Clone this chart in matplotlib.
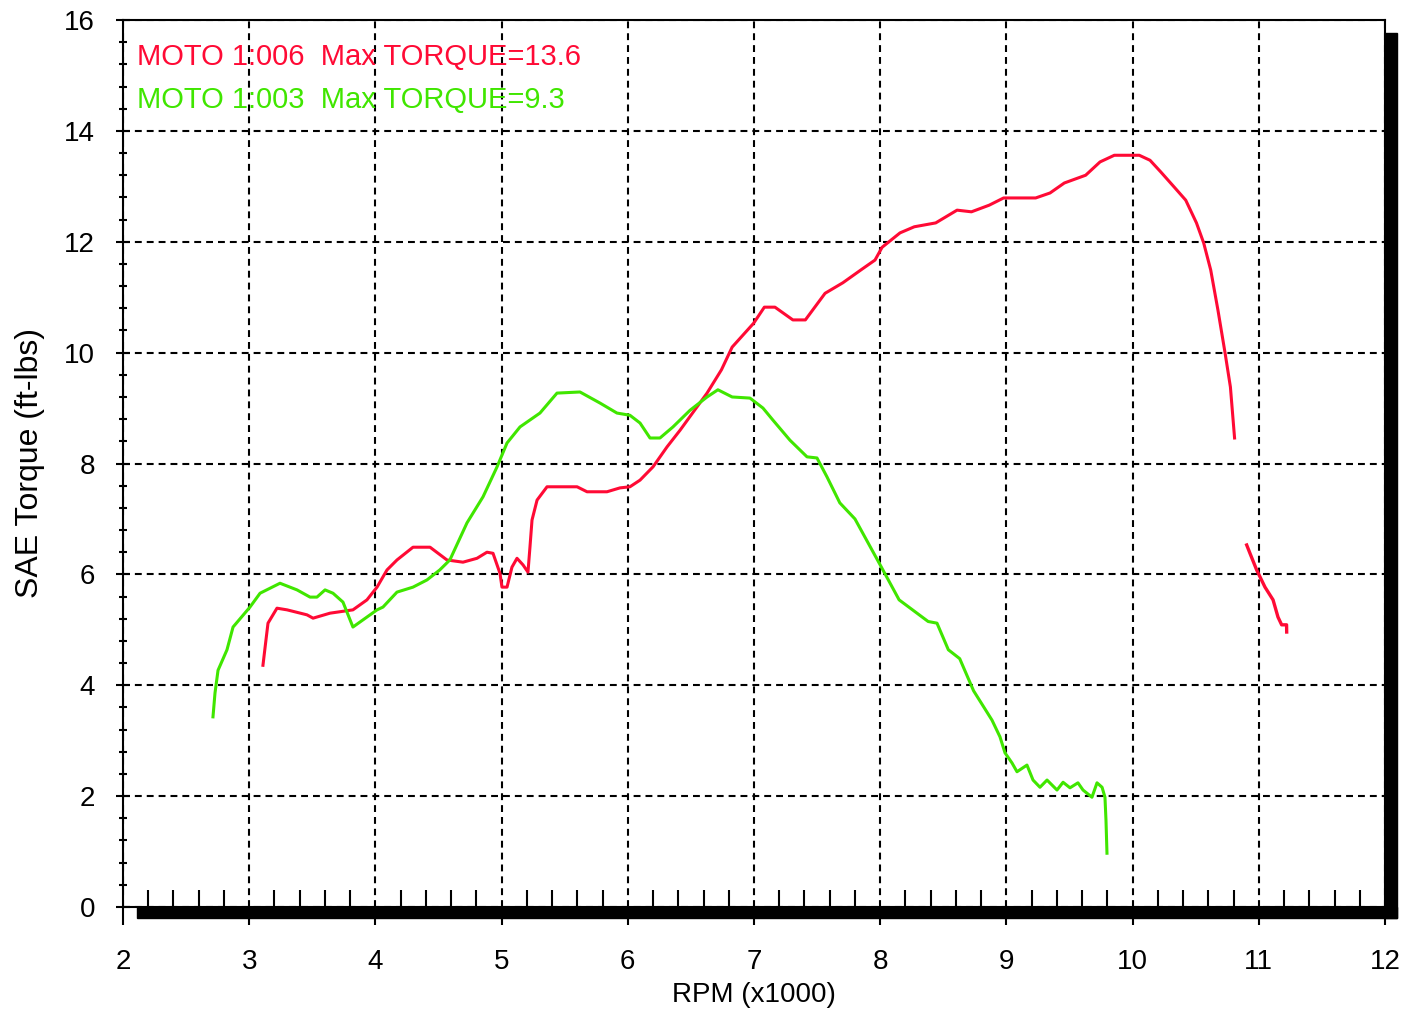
import numpy as np
import matplotlib.pyplot as plt
from matplotlib.patches import Rectangle
from matplotlib.ticker import MultipleLocator

plt.rcParams['font.family'] = ['Liberation Sans', 'DejaVu Sans']

# MOTO 1:006 (red) - main run
red_rpm = [3.109, 3.133, 3.149, 3.220, 3.300, 3.458, 3.506, 3.640, 3.822, 3.933,
           4.013, 4.092, 4.171, 4.298, 4.433, 4.567, 4.694, 4.805, 4.884, 4.932,
           4.987, 5.003, 5.043, 5.082, 5.122, 5.170, 5.209, 5.225, 5.241, 5.281,
           5.360, 5.598, 5.677, 5.835, 5.938, 6.017, 6.097, 6.200, 6.311, 6.414,
           6.548, 6.628, 6.742, 6.827, 6.997, 7.082, 7.166, 7.308, 7.407, 7.563,
           7.704, 7.846, 7.959, 8.015, 8.157, 8.270, 8.440, 8.609, 8.723, 8.864,
           8.978, 9.232, 9.346, 9.459, 9.628, 9.742, 9.855, 10.053, 10.138, 10.223,
           10.336, 10.421, 10.506, 10.563, 10.619, 10.676, 10.733, 10.775, 10.808]
red_tq = [4.36, 4.82, 5.12, 5.39, 5.36, 5.27, 5.21, 5.30, 5.36, 5.54,
          5.77, 6.08, 6.26, 6.49, 6.49, 6.26, 6.22, 6.29, 6.40, 6.38,
          6.02, 5.77, 5.77, 6.13, 6.29, 6.17, 6.04, 6.50, 6.98, 7.34,
          7.58, 7.58, 7.49, 7.49, 7.56, 7.58, 7.70, 7.94, 8.30, 8.60,
          9.02, 9.27, 9.69, 10.10, 10.53, 10.82, 10.82, 10.59, 10.59, 11.07,
          11.26, 11.49, 11.67, 11.90, 12.16, 12.27, 12.34, 12.57, 12.54, 12.66,
          12.79, 12.79, 12.88, 13.06, 13.20, 13.44, 13.56, 13.56, 13.47, 13.26,
          12.97, 12.75, 12.34, 11.98, 11.49, 10.77, 9.99, 9.38, 8.46]

# MOTO 1:006 (red) - tail after the gap
red_tail_rpm = [10.904, 10.930, 10.983, 11.049, 11.113, 11.152, 11.181, 11.220, 11.221]
red_tail_tq = [6.53, 6.38, 6.08, 5.77, 5.54, 5.23, 5.09, 5.09, 4.96]

# MOTO 1:003 (green)
green_rpm = [2.713, 2.729, 2.753, 2.824, 2.872, 3.006, 3.086, 3.244, 3.379, 3.482,
             3.537, 3.601, 3.664, 3.743, 3.822, 3.933, 4.013, 4.060, 4.171, 4.298,
             4.409, 4.510, 4.590, 4.726, 4.853, 4.964, 5.043, 5.146, 5.304, 5.439,
             5.621, 5.780, 5.914, 6.017, 6.097, 6.176, 6.255, 6.358, 6.493, 6.628,
             6.714, 6.827, 6.968, 7.071, 7.151, 7.285, 7.420, 7.499, 7.578, 7.680,
             7.800, 8.000, 8.150, 8.380, 8.450, 8.540, 8.630, 8.740, 8.886, 8.949,
             8.989, 9.044, 9.084, 9.163, 9.211, 9.266, 9.322, 9.401, 9.449, 9.504,
             9.567, 9.607, 9.678, 9.718, 9.758, 9.781, 9.789, 9.797]
green_tq = [3.43, 3.86, 4.27, 4.64, 5.05, 5.41, 5.66, 5.84, 5.72, 5.59,
            5.59, 5.72, 5.66, 5.50, 5.05, 5.23, 5.36, 5.41, 5.68, 5.77,
            5.90, 6.08, 6.26, 6.93, 7.40, 7.94, 8.37, 8.66, 8.91, 9.27,
            9.29, 9.09, 8.91, 8.87, 8.73, 8.46, 8.46, 8.66, 8.96, 9.20,
            9.33, 9.20, 9.18, 9.00, 8.78, 8.42, 8.12, 8.10, 7.76, 7.29,
            7.00, 6.17, 5.54, 5.15, 5.12, 4.64, 4.48, 3.90, 3.37, 3.07,
            2.78, 2.60, 2.44, 2.56, 2.29, 2.16, 2.29, 2.11, 2.25, 2.15,
            2.24, 2.11, 1.98, 2.24, 2.16, 1.98, 1.57, 0.97]

labels = ['MOTO 1:006  Max TORQUE=13.6', 'MOTO 1:003  Max TORQUE=9.3']
red = '#ff0a35'
green = '#40e600'

W, H = 1413, 1009
fig = plt.figure(figsize=(W / 100, H / 100), dpi=100)
ax = fig.add_axes([123 / W, 1 - 907 / H, (1385 - 123) / W, (907 - 20) / H])

ax.plot(red_rpm, red_tq, color=red, lw=2.2)
ax.plot(red_tail_rpm, red_tail_tq, color=red, lw=2.4)
ax.plot(green_rpm, green_tq, color=green, lw=2.2)

ax.set_xlim(2, 12)
ax.set_ylim(0, 16)
ax.xaxis.set_major_locator(MultipleLocator(1))
ax.xaxis.set_minor_locator(MultipleLocator(0.2))
ax.yaxis.set_major_locator(MultipleLocator(2))
ax.yaxis.set_minor_locator(MultipleLocator(0.4))

ax.grid(True, which='major', color='black', lw=1.5, linestyle=(0, (3.3, 2.4)))
ax.set_axisbelow(True)

ax.tick_params(axis='x', which='major', direction='out', length=13, width=1.5,
               labelsize=20, pad=17)
ax.tick_params(axis='x', which='minor', direction='in', length=12, width=1.5)
ax.tick_params(axis='y', which='major', direction='inout', length=10, width=1.5,
               labelsize=20, pad=15)
ax.tick_params(axis='y', which='minor', direction='inout', length=6, width=1.5)

for s in ax.spines.values():
    s.set_linewidth(1.5)

ax.set_xlabel('RPM (x1000)', fontsize=20, labelpad=5)
ax.set_ylabel('SAE Torque (ft-lbs)', fontsize=23, labelpad=14)

ax.text(14 / 1262, 1 - 37 / 887, labels[0], color=red,
        fontsize=21, transform=ax.transAxes, va='center', ha='left')
ax.text(14 / 1262, 1 - 80 / 887, labels[1], color=green,
        fontsize=21, transform=ax.transAxes, va='center', ha='left')

# drop shadow along bottom and right edges
fig.patches.append(Rectangle((137 / W, 1 - 918 / H), 1260 / W, 11 / H,
                             transform=fig.transFigure, color='black', zorder=5))
fig.patches.append(Rectangle((1385 / W, 1 - 918 / H), 12 / W, 885 / H,
                             transform=fig.transFigure, color='black', zorder=5))

fig.savefig('out.png', dpi=100)
